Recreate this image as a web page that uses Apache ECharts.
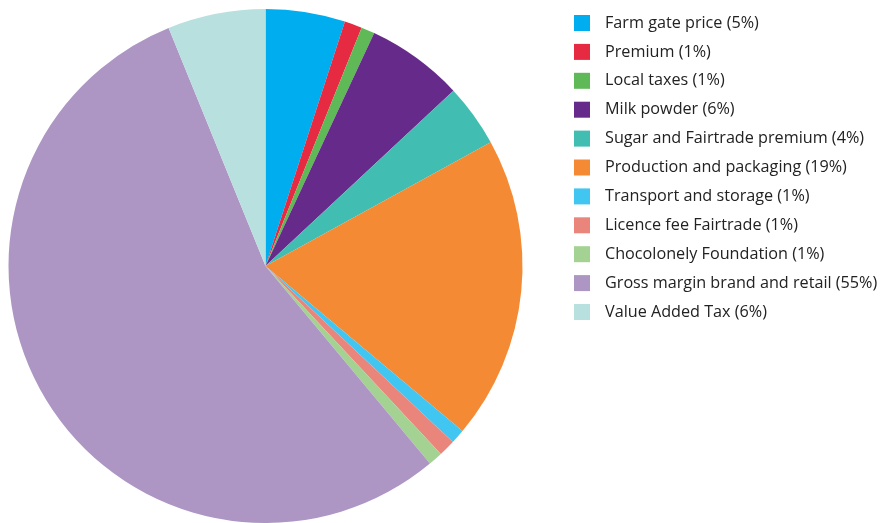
<!DOCTYPE html>
<html>
<head>
<meta charset="utf-8">
<script src="https://cdn.jsdelivr.net/npm/echarts@6/dist/echarts.min.js"></script>
<style>
html,body{margin:0;padding:0;background:#fff;}
#chart{width:881px;height:523px;}
</style>
</head>
<body>
<div id="chart"></div>
<script>
var categories = [
  'Farm gate price (5%)',
  'Premium (1%)',
  'Local taxes (1%)',
  'Milk powder (6%)',
  'Sugar and Fairtrade premium (4%)',
  'Production and packaging (19%)',
  'Transport and storage (1%)',
  'Licence fee Fairtrade (1%)',
  'Chocolonely Foundation (1%)',
  'Gross margin brand and retail (55%)',
  'Value Added Tax (6%)'
];
var values = [5.0, 1.1, 0.85, 6.1, 3.95, 19.1, 0.9, 1.05, 0.9, 54.9, 6.15];
var colors = ['#00AEEF', '#E52A41', '#5EB956', '#662A8A', '#41BDB1', '#F58A35',
              '#41C6F2', '#EA857B', '#A3D292', '#AD96C4', '#B8E0DE'];

var chart = echarts.init(document.getElementById('chart'), null, {renderer: 'canvas'});
var data = categories.map(function (c, i) {
  return {name: c, value: values[i], itemStyle: {color: colors[i]}};
});
chart.setOption({
  animation: false,
  backgroundColor: '#ffffff',
  legend: {
    orient: 'vertical',
    left: 574,
    top: 15,
    icon: 'rect',
    itemWidth: 16,
    itemHeight: 16,
    itemGap: 12.9,
    padding: 0,
    selectedMode: false,
    textStyle: {
      fontFamily: 'Open Sans',
      fontSize: 16.2,
      lineHeight: 16,
      color: '#222222',
      padding: [0, 0, 0, 10]
    },
    data: categories
  },
  series: [{
    type: 'pie',
    center: [265.5, 266],
    radius: 257,
    startAngle: 90,
    clockwise: true,
    label: {show: false},
    labelLine: {show: false},
    emphasis: {disabled: true},
    itemStyle: {borderWidth: 0},
    data: data
  }]
});
</script>
</body>
</html>
